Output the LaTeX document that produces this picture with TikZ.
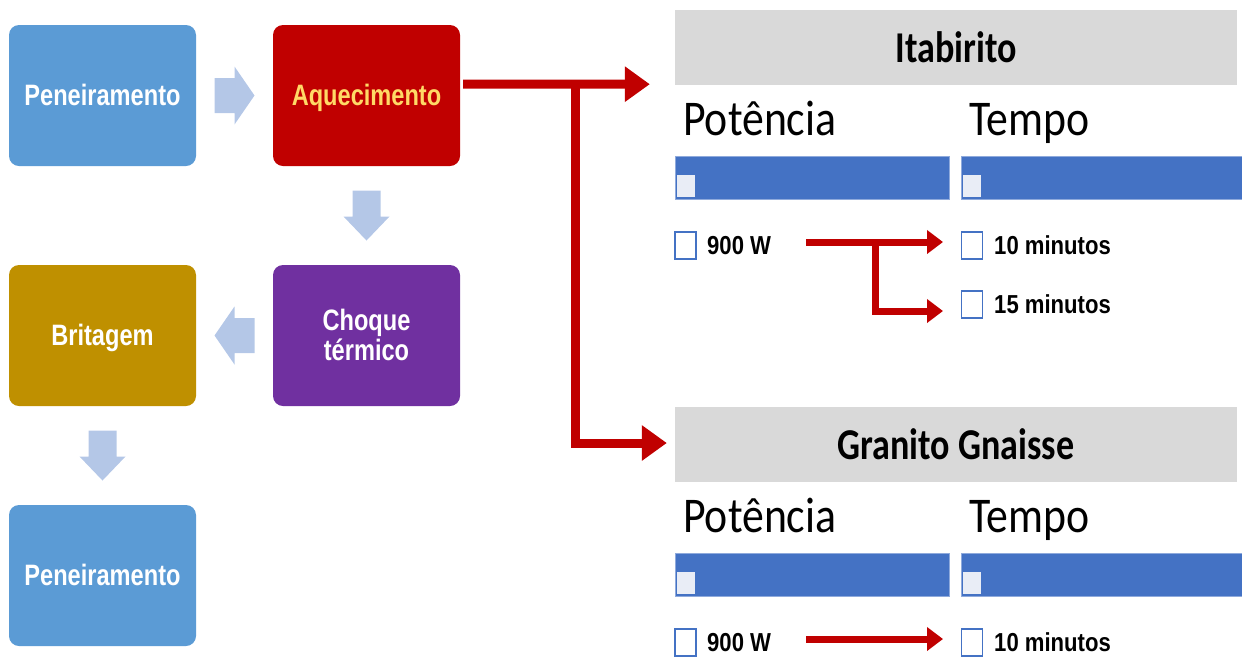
\documentclass[tikz,border=0pt]{standalone}
\usepackage{fontspec}
\usetikzlibrary{arrows.meta,calc}

% narrow faces for the process boxes, the panel items and the panel titles
\newfontfamily\boxfont[FakeStretch=0.80]{Liberation Sans}
\newfontfamily\itemfont[FakeStretch=0.85]{Liberation Sans}
\newfontfamily\hdrfont[FakeStretch=0.82]{Carlito}
\newfontfamily\colfont[FakeStretch=0.875]{Carlito}

\definecolor{penblue}{HTML}{5B9BD5}
\definecolor{heatred}{HTML}{C00000}
\definecolor{shockpurple}{HTML}{7030A0}
\definecolor{crushgold}{HTML}{BF9000}
\definecolor{heattext}{HTML}{FFD966}
\definecolor{arrowblue}{HTML}{B4C7E7}
\definecolor{barblue}{HTML}{4472C4}
\definecolor{baredge}{HTML}{8FAADC}
\definecolor{sqlight}{HTML}{E9EDF6}
\definecolor{hdrgray}{HTML}{D9D9D9}
\definecolor{linkred}{HTML}{C00000}

\tikzset{
  stepbox/.style={rounded corners=10pt, minimum width=187pt, minimum height=141pt,
    inner sep=0pt, draw=none},
  boxtext/.style={font=\boxfont\bfseries\fontsize{29.5}{30}\selectfont, text=white,
    anchor=base, inner sep=0pt},
  hdrbox/.style={fill=hdrgray, draw=none, minimum width=562pt, minimum height=75pt, inner sep=0pt},
  hdrtext/.style={font=\hdrfont\bfseries\fontsize{44}{46}\selectfont, text=black,
    anchor=base, inner sep=0pt},
  coltext/.style={font=\colfont\fontsize{50}{52}\selectfont, text=black,
    anchor=base west, inner sep=0pt},
  bar/.style={fill=barblue, draw=baredge, line width=0.8pt, minimum height=43pt, inner sep=0pt},
  barsq/.style={fill=sqlight, draw=none, minimum width=18pt, minimum height=22pt,
    inner sep=0pt, anchor=south west},
  chk/.style={draw=barblue, fill=white, line width=1.5pt, minimum width=21pt,
    minimum height=27pt, inner sep=0pt},
  itemtext/.style={font=\itemfont\bfseries\fontsize{26}{28}\selectfont, text=black,
    anchor=base west, inner sep=0pt},
  bigred/.style={draw=linkred, line width=9pt, -{Triangle[length=25pt,width=34pt]}},
  smallred/.style={draw=linkred, line width=7pt, -{Triangle[length=16pt,width=23pt]}},
  blockh/.pic={\fill[arrowblue] (-20,-17.5) -- (0,-17.5) -- (0,-29) -- (20,0)
      -- (0,29) -- (0,17.5) -- (-20,17.5) -- cycle;},
  blockv/.pic={\fill[arrowblue] (-14,-25) -- (14,-25) -- (14,1) -- (23,1)
      -- (0,25) -- (-23,1) -- (-14,1) -- cycle;},
}

\begin{document}
\begin{tikzpicture}[x=1pt, y=-1pt]
\useasboundingbox (0,0) rectangle (1242,657);

% ---------- process chain ----------
\node[stepbox, fill=penblue]     (pen1) at (102.5, 95.5) {};
\node[stepbox, fill=heatred]     (aq)   at (366.5, 95.5) {};
\node[stepbox, fill=shockpurple] (ch)   at (366.5,335.5) {};
\node[stepbox, fill=crushgold]   (brit) at (102.5,335.5) {};
\node[stepbox, fill=penblue]     (pen2) at (102.5,575.5) {};

\node[boxtext] (pen1t) at ($(pen1.center)+(0,9.5)$) {Peneiramento};
\node[boxtext, text=heattext] (aqt) at ($(aq.center)+(0,9.5)$) {Aquecimento};
\node[boxtext] (cht1) at ($(ch.center)+(0,-5.5)$) {Choque};
\node[boxtext] (cht2) at ($(ch.center)+(0,24.5)$) {térmico};
\node[boxtext] (britt) at ($(brit.center)+(0,9.5)$) {Britagem};
\node[boxtext] (pen2t) at ($(pen2.center)+(0,9.5)$) {Peneiramento};

% block arrows between the steps
\path (pen1.east) -- (aq.west)   coordinate[pos=0.5] (m1);
\path (aq.south)  -- (ch.north)  coordinate[pos=0.5] (m2);
\path (ch.west)   -- (brit.east) coordinate[pos=0.5] (m3);
\path (brit.south) -- (pen2.north) coordinate[pos=0.5] (m4);
\pic at (m1) {blockh};
\pic at (m2) {blockv};
\pic[xscale=-1] at (m3) {blockh};
\pic at (m4) {blockv};

% ---------- panel: Itabirito ----------
\node[hdrbox] (hdrA) at (956,47.5) {};
\node[hdrtext] (hdrAt) at ($(hdrA.center)+(0,14.5)$) {Itabirito};
\node[coltext] (potA) at (683,135) {Potência};
\node[coltext] (tmpA) at (969,135) {Tempo};
\node[bar, minimum width=274pt] (barA1) at (812,177.5) {};
\node[bar, minimum width=281pt] (barA2) at (1101.5,177.5) {};
\node[barsq] (sqA1) at ($(barA1.south west)+(2,-2)$) {};
\node[barsq] (sqA2) at ($(barA2.south west)+(2,-2)$) {};
\node[chk] (cbWA)  at (685.5,245.5) {};
\node[chk] (cb10A) at (972,245.5) {};
\node[chk] (cb15A) at (972,304.5) {};
\node[itemtext] (wA)   at (707,254) {900 W};
\node[itemtext] (t10A) at (994,254) {10 minutos};
\node[itemtext] (t15A) at (994,313) {15 minutos};

\coordinate (sA) at (806,242);
\coordinate (bA) at (875,242);
\coordinate (eA) at (943,311);
\draw[smallred] (sA) -- (sA -| eA);
\draw[smallred] (bA) |- (eA);

% ---------- panel: Granito Gnaisse ----------
\node[hdrbox] (hdrB) at (956,444.5) {};
\node[hdrtext] (hdrBt) at ($(hdrB.center)+(0,14.5)$) {Granito Gnaisse};
\node[coltext] (potB) at (683,532) {Potência};
\node[coltext] (tmpB) at (969,532) {Tempo};
\node[bar, minimum width=274pt] (barB1) at (812,574.5) {};
\node[bar, minimum width=281pt] (barB2) at (1101.5,574.5) {};
\node[barsq] (sqB1) at ($(barB1.south west)+(2,-2)$) {};
\node[barsq] (sqB2) at ($(barB2.south west)+(2,-2)$) {};
\node[chk] (cbWB)  at (685.5,642.5) {};
\node[chk] (cb10B) at (972,642.5) {};
\node[itemtext] (wB)   at (707,651) {900 W};
\node[itemtext] (t10B) at (994,651) {10 minutos};

\coordinate (sB) at (806,639);
\draw[smallred] (sB) -- (sB -| eA);

% ---------- links from heating to the two panels ----------
\coordinate (r0) at ($(aq.east)+(3,-11.5)$);
\coordinate (brA) at (575,84);
\coordinate (tipA) at ($(hdrA.south west)+(-25,-1)$);
\coordinate (tipB) at ($(hdrB.west)+(-8,-1.5)$);
\draw[bigred] (r0) -- (tipA);
\draw[bigred] (brA) |- (tipB);
\end{tikzpicture}
\end{document}
